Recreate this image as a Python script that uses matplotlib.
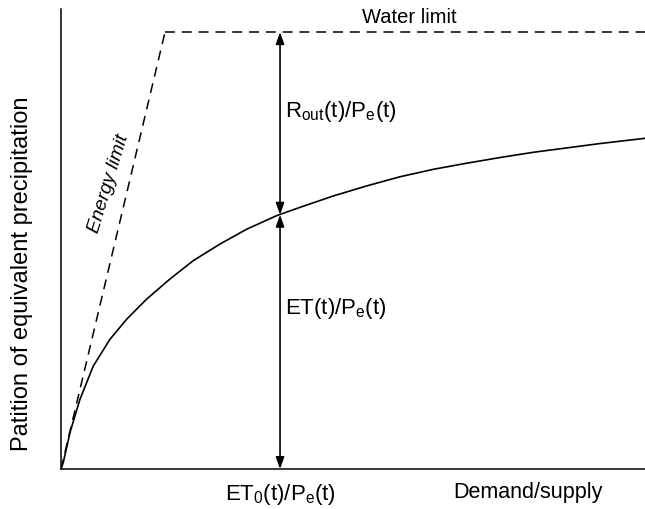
import matplotlib.pyplot as plt

plt.rcParams['font.family'] = ['Liberation Sans', 'DejaVu Sans']
plt.rcParams['mathtext.fontset'] = 'custom'
plt.rcParams['mathtext.rm'] = 'Liberation Sans'
plt.rcParams['mathtext.it'] = 'Liberation Sans:italic'

# curve (x: demand/supply, y: fraction of precipitation)
curve_x = [0.0, 0.022, 0.087, 0.183, 0.311, 0.471, 0.632, 0.824, 1.048, 1.272,
           1.529, 1.786, 2.074, 2.298, 2.618, 2.939, 3.260, 3.580, 3.901, 4.221,
           4.541, 4.863, 5.183, 5.615]
curve_y = [0.0, 0.015, 0.084, 0.160, 0.236, 0.297, 0.343, 0.389, 0.435, 0.477,
           0.515, 0.549, 0.580, 0.599, 0.625, 0.648, 0.669, 0.686, 0.700, 0.713,
           0.725, 0.735, 0.745, 0.757]

energy_x = [0.0, 1.0]
energy_y = [0.0, 1.0]
water_x = [1.0, 5.615]
water_y = [1.0, 1.0]

x_mark = 2.106   # ET0/Pe position
y_mark = 0.582   # ET/Pe at x_mark
x_max = 5.615
y_max = 1.053

fig = plt.figure(figsize=(6.45, 5.1), dpi=100)
ax = fig.add_axes([61 / 645, 40 / 510, 584 / 645, 460 / 510])

ax.plot(curve_x, curve_y, color='black', lw=1.2, solid_joinstyle='round')
ax.plot(energy_x, energy_y, color='black', lw=1.1, dashes=(6.5, 4.5))
ax.plot(water_x, water_y, color='black', lw=1.1, dashes=(6.5, 4.5))

arr = dict(arrowstyle='<|-|>,head_length=0.7,head_width=0.25', color='black',
           lw=1.2, shrinkA=0, shrinkB=0)
ax.annotate('', xy=(x_mark, 1.0), xytext=(x_mark, y_mark), arrowprops=arr)
ax.annotate('', xy=(x_mark, y_mark), xytext=(x_mark, 0.0), arrowprops=arr)

ax.text(x_mark + 0.05, 0.82, r'R$_{\mathrm{out}}$(t)/P$_{\mathrm{e}}$(t)', fontsize=16,
        ha='left', va='center')
ax.text(x_mark + 0.05, 0.37, r'ET(t)/P$_{\mathrm{e}}$(t)', fontsize=16,
        ha='left', va='center')
ax.text(3.35, 1.035, 'Water limit', fontsize=14.5, ha='center', va='center')
ax.text(0.455, 0.655, 'Energy limit', fontsize=14, style='italic', rotation=73,
        ha='center', va='center')

ax.set_xlim(0, x_max)
ax.set_ylim(0, y_max)
ax.spines['top'].set_visible(False)
ax.spines['right'].set_visible(False)
for s in ['left', 'bottom']:
    ax.spines[s].set_linewidth(1.1)
ax.set_xticks([])
ax.set_yticks([])

fig.text(22 / 645, 1 - 274 / 510, 'Patition of equivalent precipitation',
         fontsize=17, rotation=90, ha='center', va='center')
fig.text(280 / 645, 1 - 495 / 510, r'ET$_{\mathrm{0}}$(t)/P$_{\mathrm{e}}$(t)',
         fontsize=16, ha='center', va='center')
fig.text(528 / 645, 1 - 493 / 510, 'Demand/supply', fontsize=15.5,
         ha='center', va='center')

fig.savefig('out.png', dpi=100)
